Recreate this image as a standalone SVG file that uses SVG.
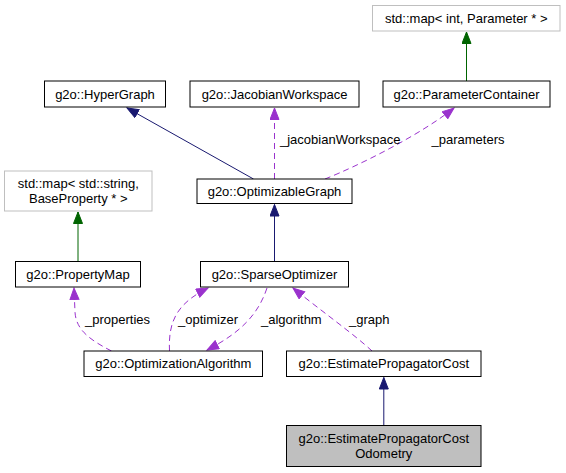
<svg xmlns="http://www.w3.org/2000/svg" width="566" height="473" viewBox="0 0 566 473">
<defs>
<style>
.n rect{fill:#fff;stroke:#000;stroke-width:1}
.g rect{fill:#fff;stroke:#bfbfbf;stroke-width:1}
.cur rect{fill:#bfbfbf;stroke:#000;stroke-width:1}
text{font-family:"Liberation Sans",Arial,sans-serif;font-size:13px;fill:#000}
.c{text-anchor:middle}
.e{fill:none;stroke-width:1}
.inh{stroke:#191970}
.grn{stroke:#006400}
.use{stroke:#9a32cd;stroke-dasharray:6,4}
</style>
<marker id="ab" markerUnits="userSpaceOnUse" markerWidth="14" markerHeight="12" refX="12" refY="5" orient="auto"><path d="M0.5,0.5 L12,5 L0.5,9.5 z" fill="#191970" stroke="#191970" stroke-width="1"/></marker>
<marker id="ag" markerUnits="userSpaceOnUse" markerWidth="14" markerHeight="12" refX="12" refY="5" orient="auto"><path d="M0.5,0.5 L12,5 L0.5,9.5 z" fill="#006400" stroke="#006400" stroke-width="1"/></marker>
<marker id="ap" markerUnits="userSpaceOnUse" markerWidth="14" markerHeight="12" refX="12" refY="5" orient="auto"><path d="M0.5,0.5 L12,5 L0.5,9.5 z" fill="#9a32cd" stroke="#9a32cd" stroke-width="1"/></marker>
</defs>
<rect width="566" height="473" fill="#fff"/>
<g id="edges">
<path class="e grn" d="M466.5,81 L466.5,32" marker-end="url(#ag)"/>
<path class="e grn" d="M78,261.5 L78,212" marker-end="url(#ag)"/>
<path class="e inh" d="M253.5,179 L127,108" marker-end="url(#ab)"/>
<path class="e use" d="M274.5,179 L274.5,108" marker-end="url(#ap)"/>
<path class="e use" d="M325,179 C360,165 420,135 454,108" marker-end="url(#ap)"/>
<path class="e inh" d="M274.5,261.5 L274.5,204.5" marker-end="url(#ab)"/>
<path class="e use" d="M111.5,351 C90,340 76,330 75,312 L74,288" marker-end="url(#ap)"/>
<path class="e use" d="M169.5,351 C168,320 178,303 208,288" marker-end="url(#ap)"/>
<path class="e use" d="M267,288 C258,315 240,333 207,350" marker-end="url(#ap)"/>
<path class="e use" d="M372,351 C355,335 320,310 293,288" marker-end="url(#ap)"/>
<path class="e inh" d="M383.8,425.5 L383.8,377.5" marker-end="url(#ab)"/>
<text x="280" y="143.5">_jacobianWorkspace</text>
<text x="431.5" y="143.5">_parameters</text>
<text x="85" y="323.5">_properties</text>
<text x="178" y="323.5">_optimizer</text>
<text x="261" y="323.5">_algorithm</text>
<text x="349" y="323.5">_graph</text>
</g>
<g id="mapParam" class="g"><rect x="372.5" y="5.5" width="187.5" height="25.5"/><text class="c" x="466.3" y="23">std::map&lt; int, Parameter * &gt;</text></g>
<g id="HyperGraph" class="n"><rect x="44.5" y="81" width="121" height="26"/><text class="c" x="105" y="98.5">g2o::HyperGraph</text></g>
<g id="JacobianWorkspace" class="n"><rect x="190" y="81" width="169" height="26"/><text class="c" x="274.5" y="98.5">g2o::JacobianWorkspace</text></g>
<g id="ParameterContainer" class="n"><rect x="383" y="81" width="167" height="26"/><text class="c" x="466.5" y="98.5">g2o::ParameterContainer</text></g>
<g id="mapString" class="g"><rect x="4.5" y="171" width="147.5" height="40"/><text class="c" x="78.3" y="187.5">std::map&lt; std::string,</text><text class="c" x="78.3" y="202.5">BaseProperty * &gt;</text></g>
<g id="OptimizableGraph" class="n"><rect x="197" y="179" width="155" height="24.5"/><text class="c" x="274.5" y="195.5">g2o::OptimizableGraph</text></g>
<g id="PropertyMap" class="n"><rect x="15.5" y="261.5" width="125" height="25.5"/><text class="c" x="78" y="278.5">g2o::PropertyMap</text></g>
<g id="SparseOptimizer" class="n"><rect x="200.5" y="261.5" width="148" height="25.5"/><text class="c" x="274.5" y="278.5">g2o::SparseOptimizer</text></g>
<g id="OptimizationAlgorithm" class="n"><rect x="84" y="351" width="178.5" height="25.5"/><text class="c" x="173.3" y="368">g2o::OptimizationAlgorithm</text></g>
<g id="EstimatePropagatorCost" class="n"><rect x="286.5" y="351" width="194.5" height="25.5"/><text class="c" x="383.8" y="368">g2o::EstimatePropagatorCost</text></g>
<g id="EstimatePropagatorCostOdometry" class="cur"><rect x="286.5" y="425.5" width="194.5" height="41"/><text class="c" x="383.8" y="442.5">g2o::EstimatePropagatorCost</text><text class="c" x="383.8" y="457.5">Odometry</text></g>
</svg>
